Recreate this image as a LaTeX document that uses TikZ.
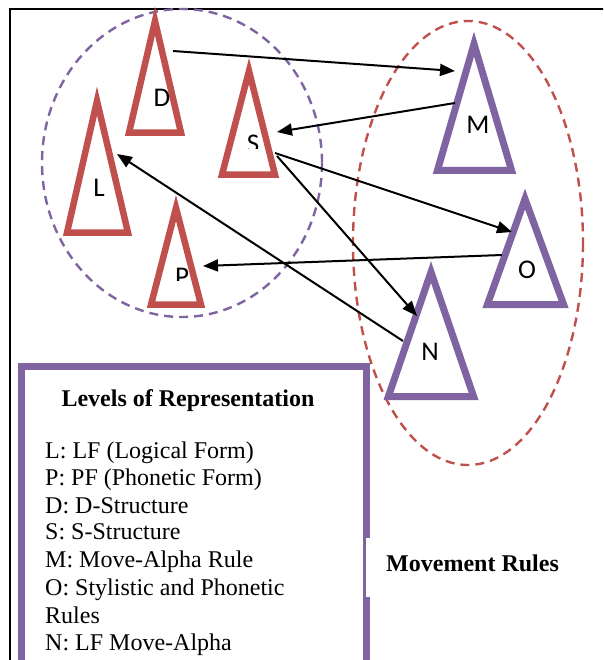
\documentclass[tikz,border=0pt]{standalone}
\usepackage{fontspec}
\setmainfont{Liberation Serif}
\newfontfamily\labelfont{Carlito}
\usetikzlibrary{arrows.meta}
\definecolor{accentred}{HTML}{C0504D}
\definecolor{accentpurple}{HTML}{8064A2}

\begin{document}
\begin{tikzpicture}[x=1pt,y=-1pt,
  frame/.style={line width=2pt,draw=black},
  groupline/.style={line width=2.4pt,dash pattern=on 9pt off 6pt},
  redtri/.style={draw=accentred,line width=6.5pt,line join=miter},
  purtri/.style={draw=accentpurple,line width=7pt,line join=miter},
  tlabel/.style={font=\labelfont\fontsize{27}{27}\selectfont,inner sep=0pt},
  link/.style={line width=2pt,-{Triangle[length=15pt,width=12pt]}},
  item/.style={anchor=base west,inner sep=0pt,font=\fontsize{24}{27}\selectfont},
  heading/.style={anchor=base,inner sep=0pt,font=\fontsize{24}{27}\selectfont\bfseries}]

\useasboundingbox (0,0) rectangle (603,660);
\clip (0,0) rectangle (603,660);
\fill[white] (0,0) rectangle (603,660);

% outer frame
\draw[frame] (10,700) -- (10,9) -- (700,9);

% groups
\draw[groupline,draw=accentpurple] (182,163) ellipse [x radius=140,y radius=154];
\draw[groupline,draw=accentred] (468,243) ellipse [x radius=115,y radius=222];

% levels of representation (red)
\draw[redtri] (155,21) -- (129,132.7) -- (181,132.7) -- cycle;
\draw[redtri] (249,71) -- (222,174.7) -- (275,174.7) -- cycle;
\draw[redtri] (97,101) -- (67,232.7) -- (128,232.7) -- cycle;
\draw[redtri] (176,208) -- (151,304.7) -- (201,304.7) -- cycle;

% movement rules (purple)
\draw[purtri] (474,44) -- (437.4,170.5) -- (511.6,170.5) -- cycle;
\draw[purtri] (525,199) -- (487.4,304.5) -- (563.6,304.5) -- cycle;
\draw[purtri] (431,272) -- (388.4,396.5) -- (473.6,396.5) -- cycle;

% triangle letters
\node[tlabel] (labD) at (162,98) {D};
\node[tlabel] (labL) at (99,188) {L};
\node[tlabel] (labM) at (478,125) {M};
\node[tlabel] (labO) at (527,270) {O};
\node[tlabel] (labN) at (430,352) {N};
\begin{scope}
  \clip (230,120) rectangle (275,149);
  \node[tlabel] (labS) at (253,144) {S};
\end{scope}
\begin{scope}
  \clip (160,255) rectangle (205,280);
  \node[tlabel] (labP) at (182,277) {P};
\end{scope}

% connector ends
\coordinate (dOut) at (173,51);
\coordinate (mIn) at (455,71);
\coordinate (mOut) at (455,103);
\coordinate (sIn) at (277,132);
\coordinate (sOutA) at (275,153);
\coordinate (oIn) at (512,232);
\coordinate (sOutB) at (277,156);
\coordinate (nIn) at (417,316);
\coordinate (oOut) at (502,255);
\coordinate (pIn) at (203,266);
\coordinate (nOut) at (403,341);
\coordinate (lIn) at (117,154);

\draw[link] (dOut) -- (mIn);
\draw[link] (mOut) -- (sIn);
\draw[link] (sOutA) -- (oIn);
\draw[link] (sOutB) -- (nIn);
\draw[link] (oOut) -- (pIn);
\draw[link] (nOut) -- (lIn);

% legend
\draw[draw=accentpurple,line width=7pt,line join=miter] (21.5,720) -- (21.5,366.5) -- (366,366.5) -- (366,720);
\node[heading] (legTitle) at (188,406) {Levels of Representation};
\node[item] (legL) at (45,458) {L: LF (Logical Form)};
\node[item] (legP) at (45,485) {P: PF (Phonetic Form)};
\node[item] (legD) at (45,513) {D: D-Structure};
\node[item] (legS) at (45,539) {S: S-Structure};
\node[item] (legM) at (45,567) {M: Move-Alpha Rule};
\node[item] (legO) at (45,595) {O: Stylistic and Phonetic};
\node[item] (legR) at (45,623) {Rules};
\node[item] (legN) at (45,650) {N: LF Move-Alpha};

% caption box
\fill[white] (366,538) rectangle (600,597);
\node[heading,anchor=base west] (moveCap) at (386,571) {Movement Rules};

\end{tikzpicture}
\end{document}
